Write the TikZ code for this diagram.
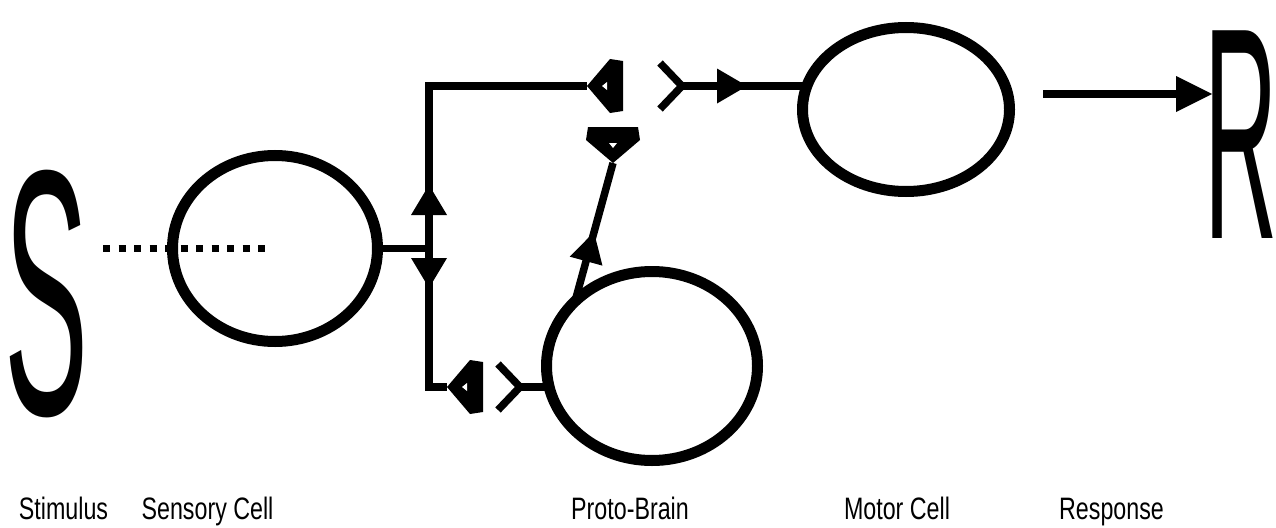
\documentclass[tikz,border=0pt]{standalone}
\usepackage{fontspec}
\setmainfont{Liberation Sans}
\newfontfamily\labelfont[FakeStretch=0.75]{Liberation Sans}
\newfontfamily\bigSfont[FakeStretch=0.36]{Liberation Sans}
\newfontfamily\bigRfont[FakeStretch=0.336]{Liberation Sans}
\usetikzlibrary{arrows.meta,decorations.markings,shapes.geometric,calc}

\tikzset{
  cell/.style={draw, ellipse, line width=11pt, inner sep=0pt, outer sep=0pt},
  wire/.style={line width=7.5pt},
  midtip/.style 2 args={postaction={decorate}, decoration={markings,
      mark=at position #1 with {\arrow{Triangle[length=30pt,width=#2,line width=0pt]}}}},
  lbl/.style={anchor=base, inner sep=0pt, font=\labelfont\fontsize{31pt}{33pt}\selectfont},
  % presynaptic terminal, tip at the origin, body towards +x
  knob/.pic={
    \fill (0,0) -- (23,-27) -- (36,-25) -- (36,25) -- (23,27) -- cycle;
    \fill[white] (15,0) -- (20,-4) -- (20,4) -- cycle;
  },
  % receiving fork, vertex at the origin, arms towards -x
  fork/.pic={
    \draw[line width=7.5pt] (-22,-23) -- (0,0) -- (-22,23);
  }
}

\begin{document}
\begin{tikzpicture}[x=1pt,y=-1pt]
\useasboundingbox (0,0) rectangle (1276,527);

% cells
\node[cell, minimum width=205pt, minimum height=186pt] (sens)  at (275,248.5) {};
\node[cell, minimum width=211pt, minimum height=189pt] (proto) at (652,366) {};
\node[cell, minimum width=207pt, minimum height=164pt] (motor) at (906,109.5) {};

% stimulus and response letters
\node[anchor=base west, inner sep=0pt, font=\bigSfont\fontsize{350pt}{350pt}\selectfont] (S) at (4,414) {S};
\node[anchor=base west, inner sep=0pt, font=\bigRfont\fontsize{302pt}{302pt}\selectfont] (R) at (1204,238) {R};

% junction and synapse points
\coordinate (jt) at (429,86);
\coordinate (jb) at (429,387);
\coordinate (k1) at (587,86);
\coordinate (k2) at (447,387);
\coordinate (k3) at (613,163);
\coordinate (f1) at (682,86);
\coordinate (f2) at (520,387);
\coordinate (dotA) at (103,248);
\coordinate (dotB) at (265,248);
\coordinate (rA) at (1043,94);

% stimulus reaching the sensory cell
\draw[line width=7pt, dash pattern=on 7pt off 8.5pt] (dotA) -- (dotB);

% sensory output, split up and down
\draw[wire] (sens.east) -- (sens.east -| jt) coordinate (jm);
\draw[wire, midtip={63.5pt}{36pt}] (jm) -- (jt) -- (k1);
\draw[wire, midtip={39.5pt}{36pt}] (jm) -- (jb) -- (k2);

% synapses
\pic at (k1) {knob};
\pic at (k2) {knob};
\pic[rotate=90] at (k3) {knob};
\pic at (f1) {fork};
\pic at (f2) {fork};

% into the proto-brain, out of it, and on to the motor cell
\draw[wire] (f2) -- (f2 -| proto.west);
\draw[wire, midtip={0.5}{34pt}] (proto.140) -- (k3);
\draw[wire, midtip={65pt}{35pt}] (f1) -- (f1 -| motor.west);

% response
\draw[wire, -{Triangle[length=36pt,width=36pt,line width=0pt]}] (rA) -- ($(rA -| R.west)+(8,0)$);

% captions
\node[lbl] (capS) at (63.5,519)  {Stimulus};
\node[lbl] (capC) at (207.5,519) {Sensory Cell};
\node[lbl] (capB) at (630,519)   {Proto-Brain};
\node[lbl] (capM) at (897,519)   {Motor Cell};
\node[lbl] (capR) at (1111.5,519) {Response};
\end{tikzpicture}
\end{document}
